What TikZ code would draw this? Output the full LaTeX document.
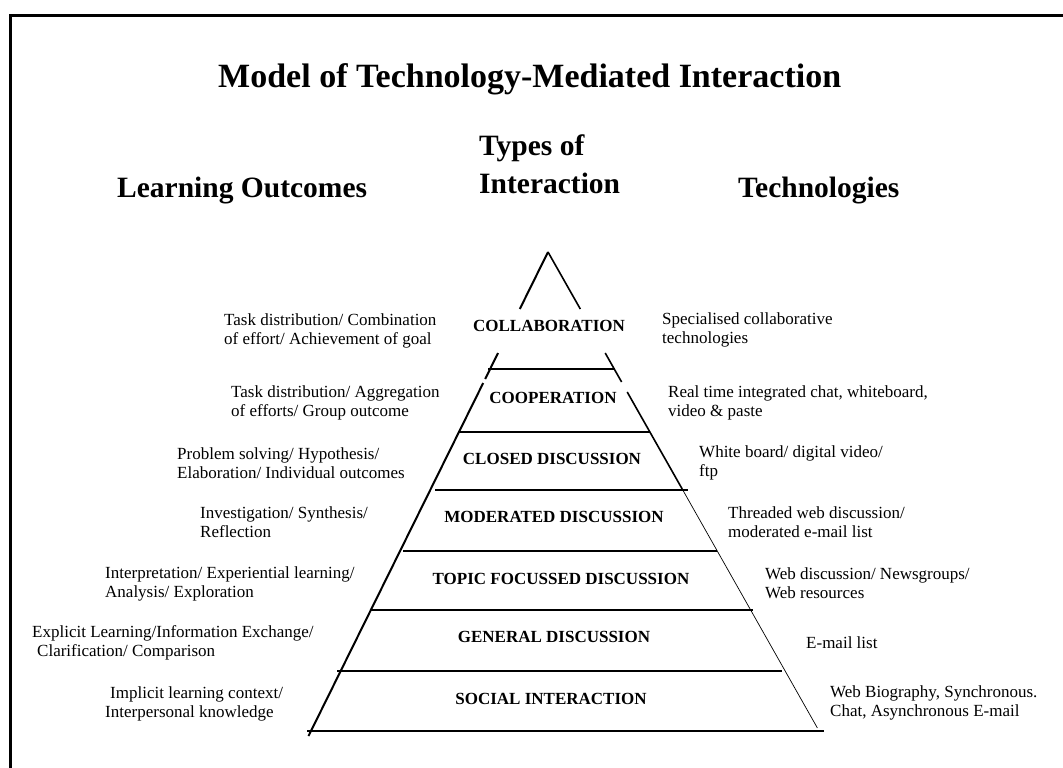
\documentclass[tikz,border=0pt]{standalone}
\usepackage{fontspec}
\setmainfont{Liberation Serif}
\begin{document}
\begin{tikzpicture}[x=1pt,y=-1pt,
  txt/.style={anchor=west, align=left, inner sep=0pt, font=\fontsize{17}{19}\selectfont},
  level/.style={inner sep=0pt, font=\bfseries\fontsize{17}{19}\selectfont},
  heading/.style={anchor=base west, inner sep=0pt, font=\bfseries\fontsize{29.5}{34}\selectfont},
  titlefont/.style={anchor=base west, inner sep=0pt, font=\bfseries\fontsize{34}{38}\selectfont},
  tier/.style={line width=2.8pt},
  leftside/.style={line width=2pt},
  rightside/.style={line width=1.6pt},
  rightthin/.style={line width=0.7pt},
  frame/.style={line width=3pt}]
\useasboundingbox (0,0) rectangle (1063,768);

% outer frame (left and top edges)
\draw[frame] (10,768) -- (10,15.3) -- (1063,15.3);

% headings
\node[titlefont] (title) at (218,88) {Model of Technology-Mediated Interaction};
\node[heading] (hout) at (117,197) {Learning Outcomes};
\node[heading] (htypes) at (479,155) {Types of};
\node[heading] (hint) at (479,193) {Interaction};
\node[heading] (htech) at (738,197) {Technologies};

% pyramid outline: left side
\coordinate (apex) at (548,252);
\draw[leftside] (apex) -- (519.8,309);
\draw[leftside] (498,353) -- (485.2,379);
\draw[leftside] (483.2,383) -- (308.5,736);
% pyramid outline: right side
\draw[rightside] (apex) -- (580.3,309);
\draw[rightside] (605.2,353) -- (621.6,382);
\draw[rightside] (627.2,392) -- (682.2,489);
\draw[rightthin] (682.2,489) -- (817.4,728);

% tier dividers
\draw[tier] (488,369) -- (615,369);
\draw[tier] (458,432) -- (650,432);
\draw[tier] (435,490) -- (688,490);
\draw[tier] (403,551) -- (717,551);
\draw[tier] (370,610) -- (753,610);
\draw[tier] (337,671) -- (782,671);
\draw[tier] (307,731) -- (824,731);

% types of interaction
\node[level] (collab) at (549,325.5) {COLLABORATION};
\node[level] (coop) at (553,397.5) {COOPERATION};
\node[level] (closed) at (552,459) {CLOSED DISCUSSION};
\node[level] (moder) at (554,517) {MODERATED DISCUSSION};
\node[level] (topic) at (561,579) {TOPIC FOCUSSED DISCUSSION};
\node[level] (general) at (554,637) {GENERAL DISCUSSION};
\node[level] (social) at (551,699) {SOCIAL INTERACTION};

% learning outcomes
\node[txt] (o1) at (224,330.5) {Task distribution/ Combination\\of effort/ Achievement of goal};
\node[txt] (o2) at (231,402.5) {Task distribution/ Aggregation\\of efforts/ Group outcome};
\node[txt] (o3) at (177,463) {Problem solving/ Hypothesis/\\Elaboration/ Individual outcomes};
\node[txt] (o4) at (200,522.5) {Investigation/ Synthesis/\\Reflection};
\node[txt] (o5) at (105,583.5) {Interpretation/ Experiential learning/\\Analysis/ Exploration};
\node[txt] (o6) at (32,642.5) {Explicit Learning/Information Exchange/\\\hspace*{5pt}Clarification/ Comparison};
\node[txt] (o7) at (105,704) {\hspace*{5pt}Implicit learning context/\\Interpersonal knowledge};

% technologies
\node[txt] (t1) at (662,330) {Specialised collaborative\\technologies};
\node[txt] (t2) at (668,402.5) {Real time integrated chat, whiteboard,\\video \& paste};
\node[txt] (t3) at (699,462.5) {White board/ digital video/\\ftp};
\node[txt] (t4) at (728,522.5) {Threaded web discussion/\\moderated e-mail list};
\node[txt] (t5) at (765,583.5) {Web discussion/ Newsgroups/\\Web resources};
\node[txt] (t6) at (806,643) {E-mail list};
\node[txt] (t7) at (830,703) {Web Biography, Synchronous.\\Chat, Asynchronous E-mail};
\end{tikzpicture}
\end{document}
